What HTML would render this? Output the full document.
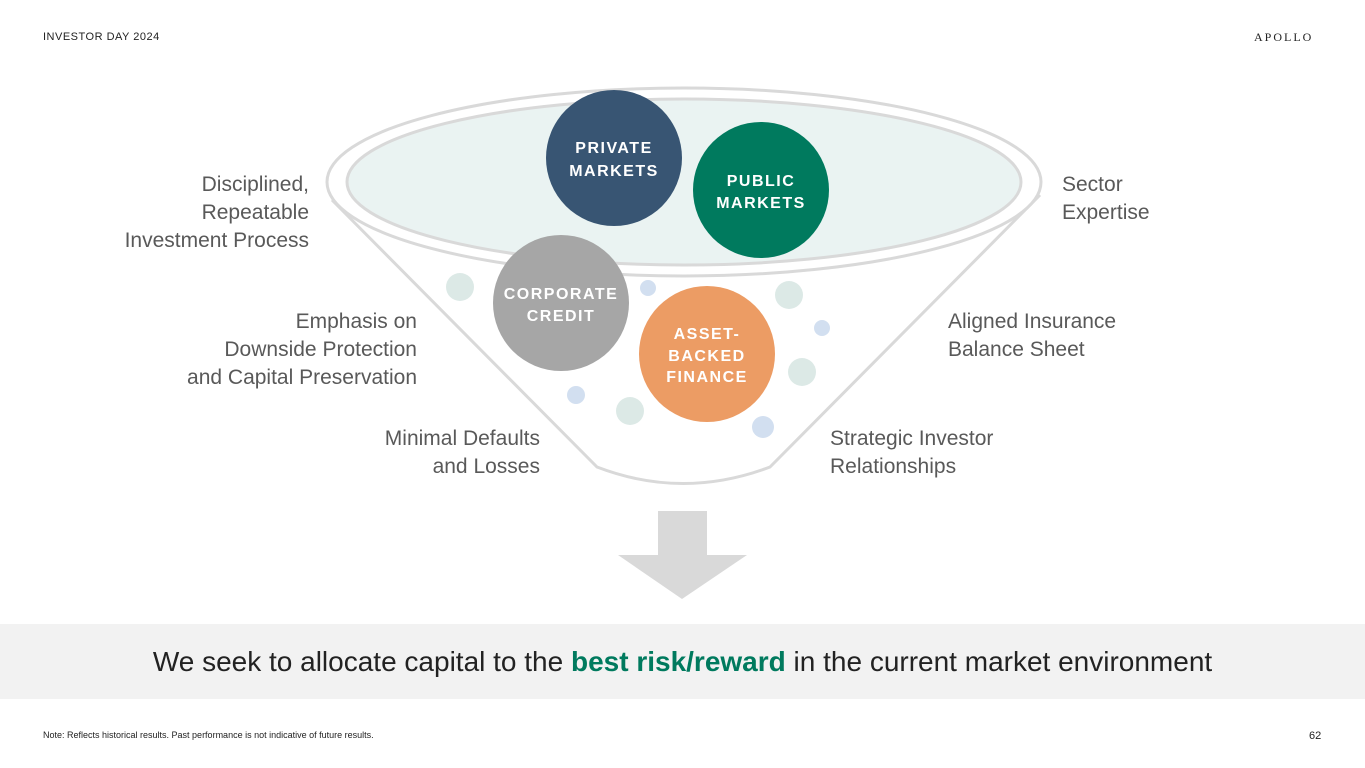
<!DOCTYPE html>
<html><head><meta charset="utf-8"><style>
body{margin:0;width:1365px;height:768px;position:relative;background:#fff;font-family:"Liberation Sans",sans-serif;overflow:hidden}
.t{position:absolute;color:#595959;font-size:21px;line-height:28px}
.r{text-align:right}
</style></head><body>
<div style="position:absolute;left:43px;top:31px;font-size:11px;color:#222;letter-spacing:0.5px">INVESTOR DAY 2024</div>
<div style="position:absolute;left:1254px;top:30px;font-size:12px;color:#222;font-family:'Liberation Serif',serif;letter-spacing:2px">APOLLO</div>
<svg width="1365" height="768" style="position:absolute;left:0;top:0">
<path d="M332,200 L597,467 Q683,500 770,467 L1040,195" fill="#fff" stroke="#d9d9d9" stroke-width="3"/>
<ellipse cx="684" cy="182" rx="357" ry="94" fill="#fff" stroke="#d9d9d9" stroke-width="3"/>
<ellipse cx="684" cy="182" rx="337" ry="83" fill="#eaf3f2" stroke="#d9d9d9" stroke-width="3"/>
<circle cx="460" cy="287" r="14" fill="#dce9e6"/>
<circle cx="648" cy="288" r="8" fill="#d2dff0"/>
<circle cx="789" cy="295" r="14" fill="#dce9e6"/>
<circle cx="822" cy="328" r="8" fill="#d2dff0"/>
<circle cx="802" cy="372" r="14" fill="#dce9e6"/>
<circle cx="576" cy="395" r="9" fill="#d2dff0"/>
<circle cx="630" cy="411" r="14" fill="#dce9e6"/>
<circle cx="763" cy="427" r="11" fill="#d2dff0"/>
<circle cx="614" cy="158" r="68" fill="#385573"/>
<circle cx="761" cy="190" r="68" fill="#007a5e"/>
<circle cx="561" cy="303" r="68" fill="#a6a6a6"/>
<circle cx="707" cy="354" r="68" fill="#ec9c64"/>
<g font-family="Liberation Sans,sans-serif" font-size="16" font-weight="600" fill="#fff" text-anchor="middle" letter-spacing="1.5">
<text x="614" y="153">PRIVATE</text><text x="614" y="176">MARKETS</text>
<text x="761" y="186">PUBLIC</text><text x="761" y="208">MARKETS</text>
<text x="561" y="299">CORPORATE</text><text x="561" y="321">CREDIT</text>
<text x="707" y="339">ASSET-</text><text x="707" y="361">BACKED</text><text x="707" y="382">FINANCE</text>
</g>
<path d="M658,511 H707 V555 H747 L682,599 L618,555 H658 Z" fill="#d9d9d9"/>
</svg>
<div class="t r" style="right:1056px;top:171px">Disciplined,<br>Repeatable<br>Investment Process</div>
<div class="t" style="left:1062px;top:171px">Sector<br>Expertise</div>
<div class="t r" style="right:948px;top:308px">Emphasis on<br>Downside Protection<br>and Capital Preservation</div>
<div class="t" style="left:948px;top:308px">Aligned Insurance<br>Balance Sheet</div>
<div class="t r" style="right:825px;top:425px">Minimal Defaults<br>and Losses</div>
<div class="t" style="left:830px;top:425px">Strategic Investor<br>Relationships</div>
<div style="position:absolute;left:0;top:624px;width:1365px;height:75px;background:#f2f2f2;text-align:center;line-height:75px;font-size:28px;color:#222">We seek to allocate capital to the <b style="color:#007a5e">best risk/reward</b> in the current market environment</div>
<div style="position:absolute;left:43px;top:730px;font-size:9px;color:#222">Note: Reflects historical results. Past performance is not indicative of future results.</div>
<div style="position:absolute;left:1309px;top:730px;font-size:11px;color:#222">62</div>
</body></html>
